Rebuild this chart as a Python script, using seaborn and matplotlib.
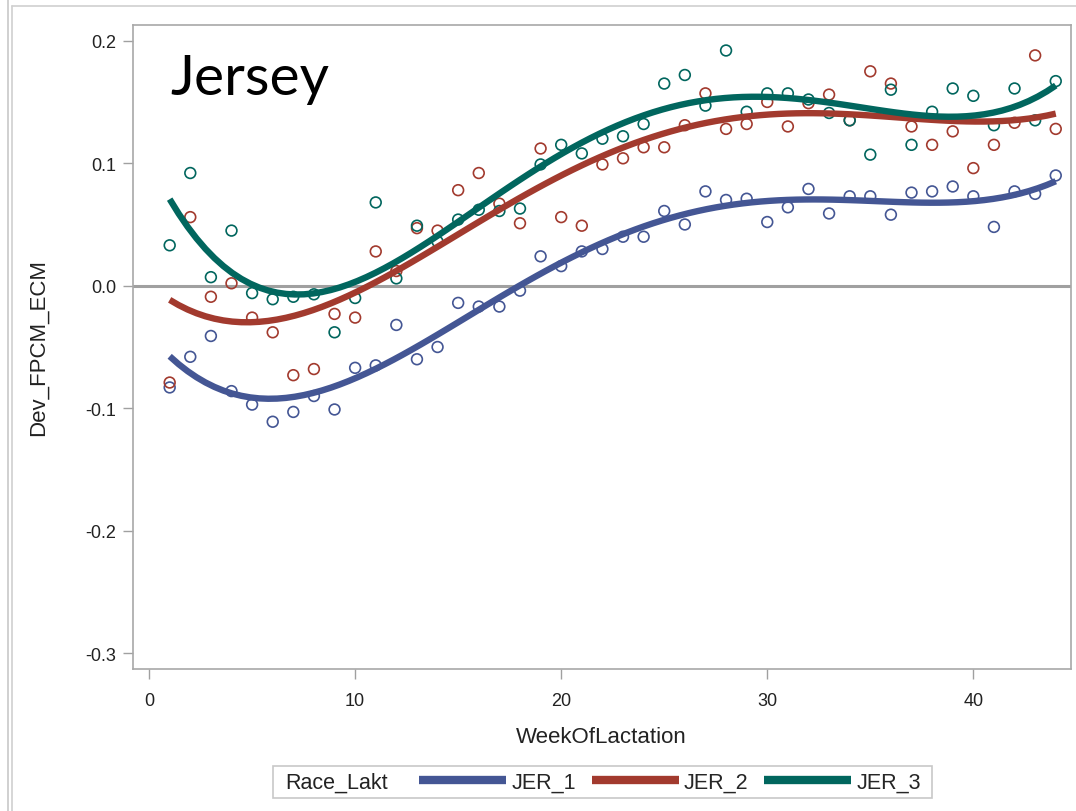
import numpy as np
import pandas as pd
import matplotlib
matplotlib.use("Agg")
import matplotlib.pyplot as plt
import seaborn as sns
from matplotlib.lines import Line2D
from matplotlib.patches import Rectangle

weeks = list(range(1, 45))
jer1 = [-0.083, -0.058, -0.041, -0.086, -0.097, -0.111, -0.103, -0.090, -0.101, -0.067,
        -0.065, -0.032, -0.060, -0.050, -0.014, -0.017, -0.017, -0.004, 0.024, 0.016,
        0.028, 0.030, 0.040, 0.040, 0.061, 0.050, 0.077, 0.070, 0.071, 0.052,
        0.064, 0.079, 0.059, 0.073, 0.073, 0.058, 0.076, 0.077, 0.081, 0.073,
        0.048, 0.077, 0.075, 0.090]
jer2 = [-0.079, 0.056, -0.009, 0.002, -0.026, -0.038, -0.073, -0.068, -0.023, -0.026,
        0.028, 0.012, 0.047, 0.045, 0.078, 0.092, 0.067, 0.051, 0.112, 0.056,
        0.049, 0.099, 0.104, 0.113, 0.113, 0.131, 0.157, 0.128, 0.132, 0.150,
        0.130, 0.149, 0.156, 0.135, 0.175, 0.165, 0.130, 0.115, 0.126, 0.096,
        0.115, 0.133, 0.188, 0.128]
jer3 = [0.033, 0.092, 0.007, 0.045, -0.006, -0.011, -0.009, -0.007, -0.038, -0.010,
        0.068, 0.006, 0.049, 0.036, 0.054, 0.062, 0.061, 0.063, 0.099, 0.115,
        0.108, 0.120, 0.122, 0.132, 0.165, 0.172, 0.147, 0.192, 0.142, 0.157,
        0.157, 0.152, 0.141, 0.135, 0.107, 0.160, 0.115, 0.142, 0.161, 0.155,
        0.131, 0.161, 0.135, 0.167]
groups = ["JER_1", "JER_2", "JER_3"]
colors = ["#445694", "#A23A2E", "#01665E"]
xticks = [0, 10, 20, 30, 40]
yticks = [-0.3, -0.2, -0.1, 0.0, 0.1, 0.2]

df = pd.DataFrame({
    "WeekOfLactation": weeks * 3,
    "Dev_FPCM_ECM": jer1 + jer2 + jer3,
    "Race_Lakt": sum([[g] * len(weeks) for g in groups], []),
})

sns.set_theme(style="white")
fam = ["Liberation Sans", "DejaVu Sans"]
plt.rcParams["font.family"] = fam

fig = plt.figure(figsize=(10.76, 8.12), dpi=100)
W, H = 1076, 812
ax = fig.add_axes([133 / W, 1 - 670 / H, (1071 - 133) / W, (670 - 26) / H])

ax.axhline(0, color="#A0A0A0", lw=2.2, zorder=1)

for g, c in zip(groups, colors):
    sub = df[df["Race_Lakt"] == g]
    ax.scatter(sub["WeekOfLactation"], sub["Dev_FPCM_ECM"], s=60,
               facecolors="none", edgecolors=c, linewidths=1.2, zorder=2)
for g, c in zip(groups, colors):
    sub = df[df["Race_Lakt"] == g]
    sns.regplot(data=sub, x="WeekOfLactation", y="Dev_FPCM_ECM", order=4,
                ci=None, scatter=False, ax=ax,
                line_kws=dict(color=c, lw=4.6, solid_capstyle="butt", zorder=3))

ax.set_xlim(-0.78, 44.74)
ax.set_ylim(-0.3128, 0.2128)
ax.set_xticks(xticks)
ax.set_xticklabels([str(t) for t in xticks])
ax.set_yticks(yticks)
ax.set_yticklabels([f"{t:.1f}" for t in yticks])
ax.tick_params(axis="both", which="both", direction="out", length=7.2, width=1,
               color="#A0A0A0", labelsize=13, labelcolor="#222222",
               bottom=True, left=True)
ax.tick_params(axis="x", pad=9)
ax.tick_params(axis="y", pad=5)
for s in ax.spines.values():
    s.set_color("#A8A8A8")
    s.set_linewidth(1.2)
ax.set_xlabel("WeekOfLactation", fontsize=16, color="#222222")
ax.set_ylabel("Dev_FPCM_ECM", fontsize=16, color="#222222")
ax.xaxis.set_label_coords((601 - 133) / 938, -(727 - 670) / 644)
ax.yaxis.set_label_coords((49 - 133) / 938, (670 - 348) / 644)

ax.text(170 / W, 1 - 95 / H, "Jersey", transform=fig.transFigure,
        fontsize=41, family=["Lato", "DejaVu Sans"], color="black")

# legend
handles = [Line2D([], [], color=c, lw=6, solid_capstyle="butt") for c in colors]
fig.legend(handles, groups, loc="center left",
           bbox_to_anchor=(419 / W, 1 - 783 / H), frameon=False,
           ncol=3, fontsize=15.5, handlelength=4.05, handletextpad=0.23,
           columnspacing=0.74, borderpad=0, borderaxespad=0)
fig.text(285 / W, 1 - 783 / H, "Race_Lakt", fontsize=15.5, va="center",
         color="#222222")
fig.patches.append(Rectangle((273 / W, 1 - 799 / H), (932 - 273) / W, 32 / H,
                             transform=fig.transFigure, fill=False,
                             edgecolor="#C8C8C8", lw=1.2))
# outer panel frame lines
fig.add_artist(Line2D([8 / W, 8 / W], [0, 1], transform=fig.transFigure,
                      color="#C8C8C8", lw=1.2))
fig.add_artist(Line2D([12 / W, 12 / W], [0, 1 - 7 / H], transform=fig.transFigure,
                      color="#D0D0D0", lw=1.2))
fig.add_artist(Line2D([12 / W, 1], [1 - 7 / H, 1 - 7 / H], transform=fig.transFigure,
                      color="#D0D0D0", lw=1.2))

fig.savefig("out.png", dpi=100)
